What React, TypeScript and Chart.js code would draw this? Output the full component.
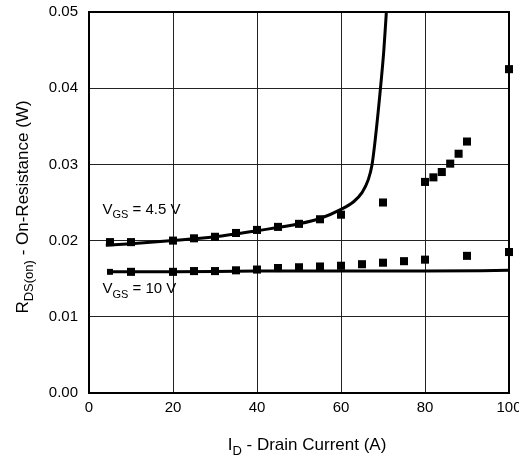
import React, { useEffect, useRef } from "react";
import { Chart, registerables } from "chart.js";

Chart.register(...registerables);

// Drain current (A) and on-resistance (ohm)
const curveX45 = [4, 10, 20, 30, 40, 50, 55, 60, 63, 65, 66.5, 67.4, 68.2, 69.4, 70.2, 70.8];
const curveY45 = [0.0194, 0.0196, 0.02, 0.0205, 0.0213, 0.0222, 0.0229, 0.0241, 0.0251, 0.0263, 0.028, 0.03, 0.0335, 0.04, 0.045, 0.05];
const markX45 = [5, 10, 20, 25, 30, 35, 40, 45, 50, 55, 60, 70, 80, 82, 84, 86, 88, 90, 100];
const markY45 = [0.0198, 0.0198, 0.02, 0.0203, 0.0205, 0.021, 0.0214, 0.0218, 0.0222, 0.0228, 0.0234, 0.025, 0.0277, 0.0283, 0.029, 0.0301, 0.0314, 0.033, 0.0425];

const curveX10 = [4.3, 20, 40, 60, 80, 100];
const curveY10 = [0.0159, 0.0159, 0.016, 0.016, 0.016, 0.0161];
const markX10 = [5, 10, 20, 25, 30, 35, 40, 45, 50, 55, 60, 65, 70, 75, 80, 90, 100];
const markY10 = [0.0159, 0.0159, 0.0159, 0.016, 0.016, 0.0161, 0.0162, 0.0164, 0.0165, 0.0166, 0.0167, 0.0169, 0.0171, 0.0173, 0.0175, 0.018, 0.0185];

const xTicks = [0, 20, 40, 60, 80, 100];
const yTicks = [0, 0.01, 0.02, 0.03, 0.04, 0.05];

const FONT = "'Liberation Sans', Arial, Helvetica, sans-serif";

const zip = (xs: number[], ys: number[]) => xs.map((x, i) => ({ x, y: ys[i] }));

type Seg = { t: string; sub?: boolean };

function drawSegs(ctx: CanvasRenderingContext2D, segs: Seg[], x: number, y: number, size: number) {
  let cx = x;
  for (const s of segs) {
    const fs = s.sub ? Math.round(size * 0.75) : size;
    ctx.font = `${fs}px ${FONT}`;
    ctx.fillText(s.t, cx, s.sub ? y + size * 0.3 : y);
    cx += ctx.measureText(s.t).width;
  }
  return cx - x;
}

function segsWidth(ctx: CanvasRenderingContext2D, segs: Seg[], size: number) {
  let w = 0;
  for (const s of segs) {
    const fs = s.sub ? Math.round(size * 0.75) : size;
    ctx.font = `${fs}px ${FONT}`;
    w += ctx.measureText(s.t).width;
  }
  return w;
}

const textPlugin = {
  id: "textPlugin",
  afterDraw(chart: any) {
    const ctx: CanvasRenderingContext2D = chart.ctx;
    const { left, right, top, bottom } = chart.chartArea;
    const xs = chart.scales.x;
    const ys = chart.scales.y;
    ctx.save();
    // frame
    ctx.strokeStyle = "#000";
    ctx.lineWidth = 2;
    ctx.strokeRect(left, top, right - left, bottom - top);

    ctx.fillStyle = "#000";
    ctx.textBaseline = "alphabetic";
    ctx.textAlign = "left";
    // annotations
    drawSegs(ctx, [{ t: "V" }, { t: "GS", sub: true }, { t: " = 4.5 V" }], xs.getPixelForValue(3.2), ys.getPixelForValue(0.0235), 15);
    drawSegs(ctx, [{ t: "V" }, { t: "GS", sub: true }, { t: " = 10 V" }], xs.getPixelForValue(3.2), ys.getPixelForValue(0.0131), 15);

    // x title
    const xt: Seg[] = [{ t: "I" }, { t: "D", sub: true }, { t: " - Drain Current (A)" }];
    const xw = segsWidth(ctx, xt, 17);
    drawSegs(ctx, xt, 307 - xw / 2, 450, 17);

    // y title
    const yt: Seg[] = [{ t: "R" }, { t: "DS(on)", sub: true }, { t: " - On-Resistance (W)" }];
    const yw = segsWidth(ctx, yt, 17);
    ctx.translate(28, 207);
    ctx.rotate(-Math.PI / 2);
    drawSegs(ctx, yt, -yw / 2, 0, 17);
    ctx.restore();
  },
};

export default function App() {
  const ref = useRef<HTMLCanvasElement | null>(null);
  useEffect(() => {
    if (!ref.current) return;
    const firstSmall = (ctx: any) => (ctx.dataIndex === 0 ? 4.2 : 5.7);
    const chart = new Chart(ref.current, {
      type: "scatter",
      data: {
        datasets: [
          {
            label: "4.5 V curve",
            data: zip(curveX45, curveY45),
            showLine: true,
            borderColor: "#000",
            borderWidth: 3,
            pointRadius: 0,
            cubicInterpolationMode: "monotone",
          } as any,
          {
            label: "4.5 V measured",
            data: zip(markX45, markY45),
            pointStyle: "rect",
            pointRadius: 5.7,
            backgroundColor: "#000",
            borderColor: "#000",
            borderWidth: 0,
            clip: false,
          } as any,
          {
            label: "10 V curve",
            data: zip(curveX10, curveY10),
            showLine: true,
            borderColor: "#000",
            borderWidth: 3,
            pointRadius: 0,
            cubicInterpolationMode: "monotone",
          } as any,
          {
            label: "10 V measured",
            data: zip(markX10, markY10),
            pointStyle: "rect",
            pointRadius: firstSmall,
            backgroundColor: "#000",
            borderColor: "#000",
            borderWidth: 0,
            clip: false,
          } as any,
        ],
      },
      options: {
        responsive: false,
        animation: false,
        layout: { padding: { left: 0, right: 10, top: 12, bottom: 0 } },
        plugins: { legend: { display: false }, tooltip: { enabled: false }, title: { display: false } },
        scales: {
          x: {
            type: "linear",
            min: 0,
            max: 100,
            afterBuildTicks: (s: any) => {
              s.ticks = xTicks.map((v) => ({ value: v }));
            },
            afterFit: (s: any) => {
              s.height = 69;
              s.paddingRight = 0;
              s.paddingLeft = 0;
            },
            ticks: { color: "#000", font: { family: FONT, size: 15 }, padding: 6, maxRotation: 0 },
            grid: { color: "#222", lineWidth: 1, drawTicks: false },
            border: { display: false },
          },
          y: {
            type: "linear",
            min: 0,
            max: 0.05,
            afterBuildTicks: (s: any) => {
              s.ticks = yTicks.map((v) => ({ value: v }));
            },
            afterFit: (s: any) => {
              s.width = 89;
              s.paddingTop = 0;
              s.paddingBottom = 0;
            },
            ticks: {
              color: "#000",
              font: { family: FONT, size: 15 },
              padding: 11,
              callback: (v: any) => Number(v).toFixed(2),
            },
            grid: { color: "#222", lineWidth: 1, drawTicks: false },
            border: { display: false },
          },
        },
      },
      plugins: [textPlugin],
    });
    return () => chart.destroy();
  }, []);
  return (
    <div style={{ position: "fixed", left: 0, top: 0, width: 519, height: 462, background: "#fff" }}>
      <canvas ref={ref} width={519} height={462} />
    </div>
  );
}
